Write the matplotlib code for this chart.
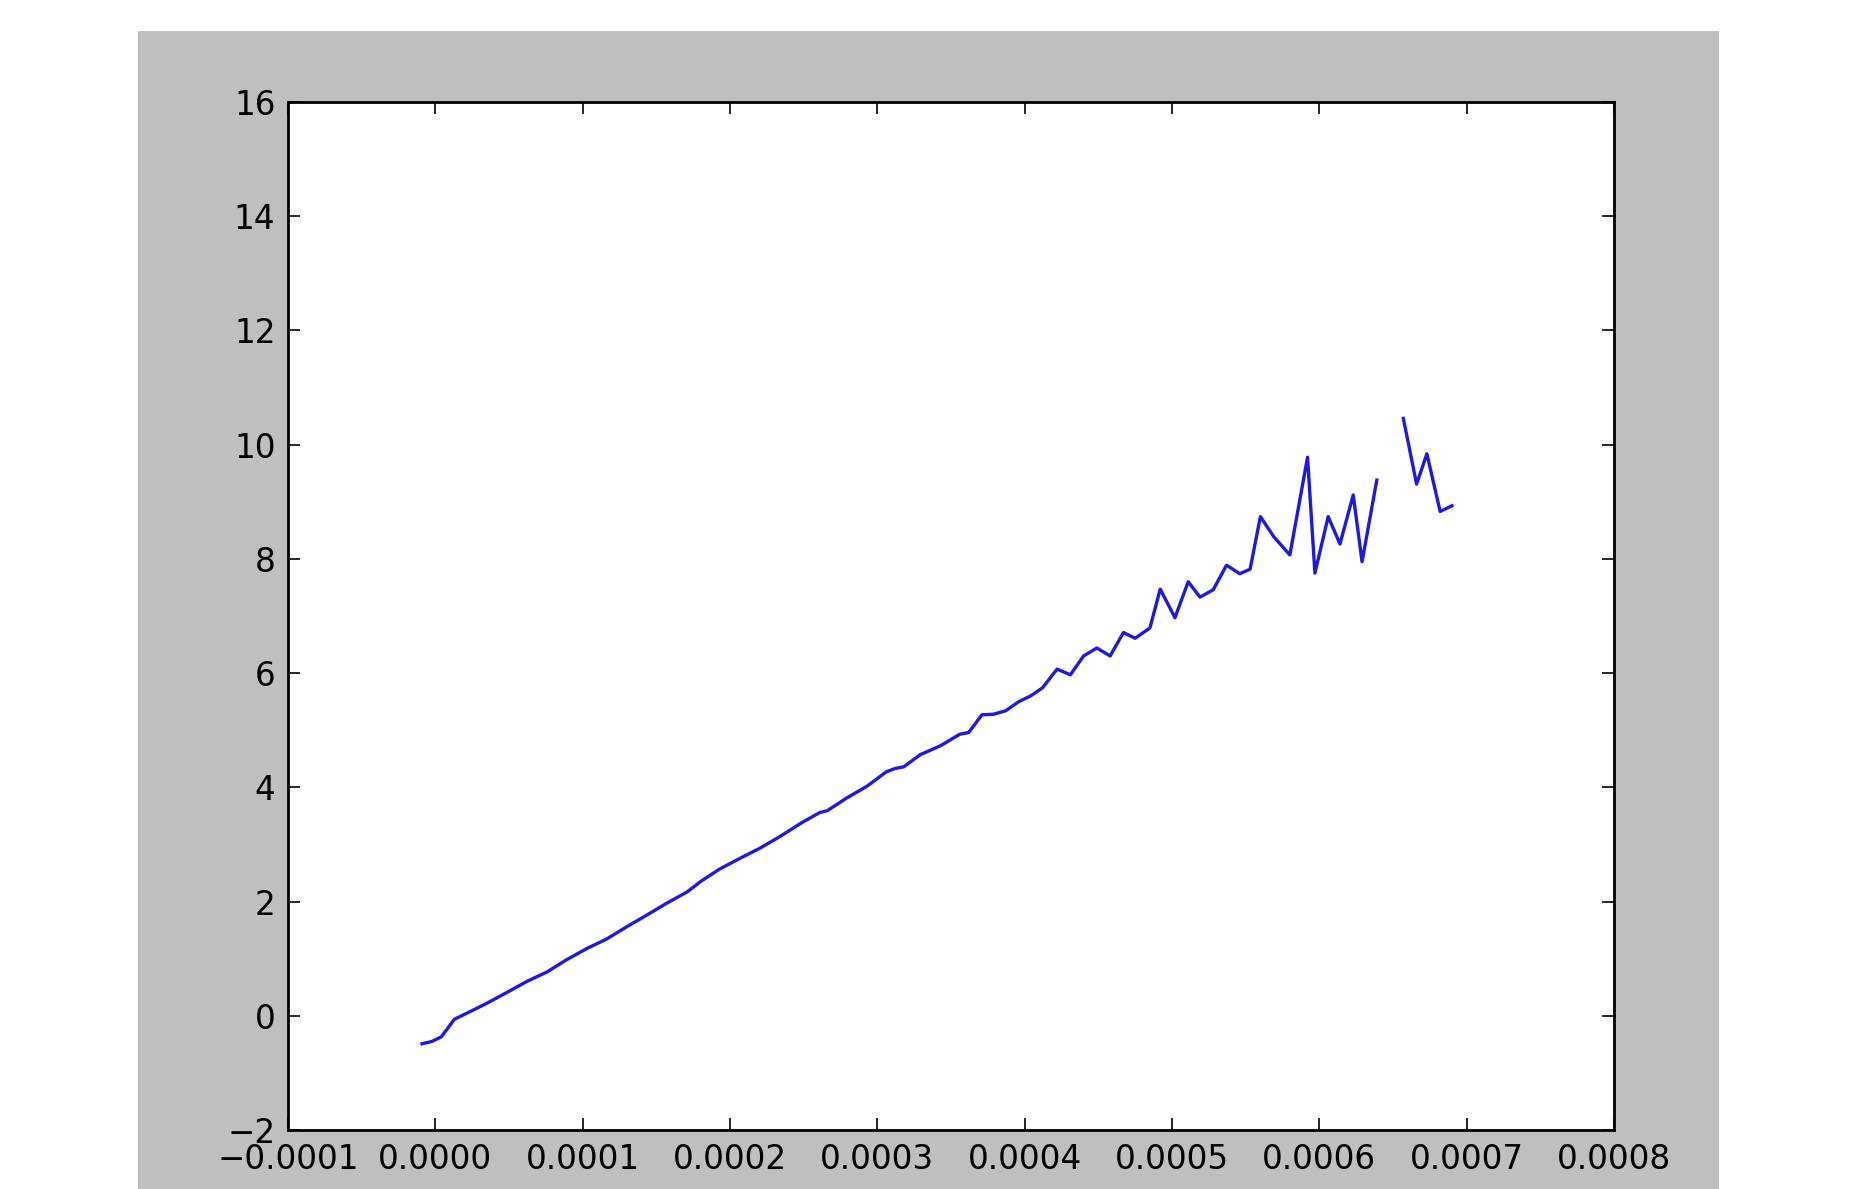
import numpy as np
import matplotlib
matplotlib.use("Agg")
import matplotlib.pyplot as plt

# data (x in units of 1e-4)
x_e4 = [-0.09, -0.024, 0.04, 0.13, 0.21, 0.35, 0.48, 0.62, 0.76, 0.89,
        1.03, 1.16, 1.30, 1.44, 1.57, 1.71, 1.80, 1.93, 2.07, 2.20,
        2.34, 2.48, 2.61, 2.66, 2.79, 2.93, 3.06, 3.12, 3.18, 3.29,
        3.43, 3.56, 3.62, 3.71, 3.79, 3.87, 3.96, 4.04, 4.12, 4.22,
        4.31, 4.40, 4.49, 4.58, 4.67, 4.75, 4.85, 4.92, 5.02, 5.11,
        5.19, 5.28, 5.37, 5.46, 5.53, 5.60, 5.69, 5.80, 5.92, 5.97,
        6.06, 6.14, 6.23, 6.29, 6.39, np.nan, 6.57, 6.66, 6.73, 6.82, 6.90]
y_vals = [-0.49, -0.45, -0.37, -0.06, 0.04, 0.22, 0.40, 0.60, 0.77, 0.98,
          1.18, 1.34, 1.56, 1.77, 1.97, 2.17, 2.35, 2.57, 2.76, 2.93,
          3.14, 3.37, 3.56, 3.59, 3.81, 4.02, 4.27, 4.33, 4.36, 4.57,
          4.73, 4.93, 4.96, 5.27, 5.28, 5.34, 5.50, 5.60, 5.74, 6.07,
          5.97, 6.30, 6.44, 6.30, 6.71, 6.61, 6.79, 7.47, 6.97, 7.60,
          7.33, 7.46, 7.89, 7.74, 7.82, 8.74, 8.39, 8.07, 9.78, 7.75,
          8.74, 8.26, 9.12, 7.95, 9.38, np.nan, 10.46, 9.31, 9.84, 8.83, 8.93]
x_ticks = [-0.0001, 0.0, 0.0001, 0.0002, 0.0003, 0.0004, 0.0005, 0.0006, 0.0007, 0.0008]
x_tick_labels = ["\u22120.0001", "0.0000", "0.0001", "0.0002", "0.0003",
                 "0.0004", "0.0005", "0.0006", "0.0007", "0.0008"]
y_ticks = [-2, 0, 2, 4, 6, 8, 10, 12, 14, 16]

W, H = 1860, 1189
fig = plt.figure(figsize=(W / 100, H / 100), dpi=100, facecolor="white")

# gray figure background region (behind the axes)
bg = fig.add_axes([138 / W, 0, (1719 - 138) / W, (H - 31) / H], zorder=-10)
bg.set_facecolor("#bfbfbf")
bg.set_xticks([])
bg.set_yticks([])
for s in bg.spines.values():
    s.set_visible(False)

ax = fig.add_axes([288 / W, 1 - 1130 / H, (1614 - 288) / W, (1130 - 102) / H], zorder=1)
ax.set_facecolor("white")

x = np.array(x_e4) * 1e-4
ax.plot(x, y_vals, color="#1a1ae0", linewidth=2.4)

ax.set_xlim(-0.0001, 0.0008)
ax.set_ylim(-2, 16)
ax.set_xticks(x_ticks)
ax.set_xticklabels(x_tick_labels)
ax.set_yticks(y_ticks)
ax.set_yticklabels([("\u2212%d" % -v) if v < 0 else "%d" % v for v in y_ticks])

ax.tick_params(direction="in", length=8.5, width=1.2, top=True, right=True,
               labelsize=23.5, colors="black")
ax.tick_params(axis="y", pad=9)
ax.tick_params(axis="x", pad=9.5)
for s in ax.spines.values():
    s.set_linewidth(2.0)
    s.set_color("black")

fig.savefig("out.png", dpi=100, facecolor="white")
